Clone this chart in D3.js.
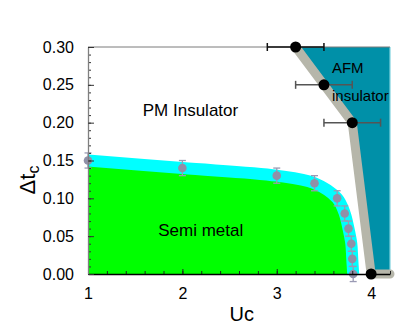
<!DOCTYPE html>
<html>
<head>
<meta charset="utf-8">
<script src="https://cdn.jsdelivr.net/npm/d3@7"></script>
<style>
  body { margin: 0; background: #fff; }
  text { font-family: Arial, "Liberation Sans", sans-serif; }
</style>
</head>
<body>
<svg id="chart" width="415" height="327"></svg>
<script>
// semi metal / PM insulator boundary (grey points)
const smU = [1, 2, 3, 3.4, 3.64, 3.72, 3.76, 3.79, 3.8, 3.81]
const smDt = [0.15, 0.14, 0.13, 0.12, 0.10, 0.08, 0.06, 0.04, 0.02, 0.00]
const smErr = [0.01, 0.01, 0.01, 0.01, 0.01, 0.01, 0.01, 0.01, 0.01, 0.01]

// AFM insulator boundary (black points, error in Uc)
const afmU = [3.2, 3.5, 3.8, 4.0]
const afmDt = [0.30, 0.25, 0.20, 0.00]
const afmErr = [0.3, 0.3, 0.3, 0]

const xTicks = [1, 2, 3, 4]
const yTicks = [0, 0.05, 0.10, 0.15, 0.20, 0.25, 0.30]

const svg = d3.select("#chart")
const margin = { top: 47, right: 25, bottom: 53, left: 88 }
const width = +svg.attr("width") - margin.left - margin.right
const height = +svg.attr("height") - margin.top - margin.bottom

const g = svg.append("g")
  .attr("transform", "translate(" + margin.left + "," + margin.top + ")")

const x = d3.scaleLinear().domain([1, 4.2]).range([0, width])
const y = d3.scaleLinear().domain([0, 0.30]).range([height, 0])

const smPts = smU.map((u, i) => [u, smDt[i], smErr[i]])
const afmPts = afmU.map((u, i) => [u, afmDt[i], afmErr[i]])

const curve = d3.curveCatmullRom.alpha(0.5)

// green semi metal region under the boundary
g.append("path")
  .datum(smPts)
  .attr("fill", "#00ff00")
  .attr("d", d3.area()
    .x(d => x(d[0]))
    .y0(y(0))
    .y1(d => y(d[1]))
    .curve(curve))

// cyan band along the boundary
g.append("path")
  .datum(smPts)
  .attr("fill", "none")
  .attr("stroke", "#00ffff")
  .attr("stroke-width", 12)
  .attr("d", d3.line().x(d => x(d[0])).y(d => y(d[1])).curve(curve))

// AFM region: boundary points closed on the right edge of the plot
const [xMin, xMax] = x.domain()
const [yMin, yMax] = y.domain()
const afmPoly = afmPts.map(d => [d[0], d[1]]).concat([[xMax, yMin], [xMax, yMax]])
const line = d3.line().x(d => x(d[0])).y(d => y(d[1]))

g.append("path")
  .datum(afmPoly)
  .attr("fill", "#0090a8")
  .attr("d", line)

g.append("line")
  .attr("x1", x(xMax)).attr("x2", x(xMax))
  .attr("y1", y(yMax)).attr("y2", y(yMin))
  .attr("stroke", "#7fd2de")
  .attr("stroke-width", 1.2)

// thick grey boundary line, runs on along the bottom
g.append("path")
  .datum(afmPts.map(d => [d[0], d[1]]).concat([[xMax, yMin]]))
  .attr("fill", "none")
  .attr("stroke", "#b6b6aa")
  .attr("stroke-width", 9)
  .attr("stroke-linecap", "round")
  .attr("stroke-linejoin", "round")
  .attr("d", line)

// grey error bars and points
const eb = g.append("g").attr("stroke", "#9a9ab4").attr("stroke-width", 1.3)
smPts.forEach(d => {
  eb.append("line")
    .attr("x1", x(d[0])).attr("x2", x(d[0]))
    .attr("y1", y(d[1] - d[2])).attr("y2", y(d[1] + d[2]))
  ;[d[1] - d[2], d[1] + d[2]].forEach(v => {
    eb.append("line")
      .attr("x1", x(d[0]) - 3.5).attr("x2", x(d[0]) + 3.5)
      .attr("y1", y(v)).attr("y2", y(v))
  })
})

g.selectAll(".smpt")
  .data(smPts)
  .join("circle")
  .attr("class", "smpt")
  .attr("cx", d => x(d[0]))
  .attr("cy", d => y(d[1]))
  .attr("r", 4.3)
  .attr("fill", "#9090a8")

// frame top line
g.append("line")
  .attr("x1", 0).attr("x2", width)
  .attr("y1", 0).attr("y2", 0)
  .attr("stroke", "#7a7a7a")

// axes with inward ticks
const xMinor = d3.range(10, 43, 2).map(v => v / 10)
g.append("g")
  .attr("transform", "translate(0," + height + ")")
  .call(d3.axisBottom(x).tickValues(xMinor).tickSize(-3).tickFormat(""))
  .call(a => a.select(".domain").remove())
  .call(a => a.selectAll("line").attr("stroke", "#222"))

g.append("g")
  .attr("transform", "translate(0," + height + ")")
  .call(d3.axisBottom(x).tickValues(xTicks).tickSize(-5).tickSizeOuter(0).tickPadding(14).tickFormat(d3.format("d")))
  .call(a => a.select(".domain").attr("stroke", "#000").attr("stroke-width", 1.3))
  .call(a => a.selectAll("line").attr("stroke", "#222"))
  .call(a => a.selectAll("text").attr("font-size", 16).attr("fill", "#000").attr("font-family", null))

const yMinor = d3.range(0, 31, 1).map(v => v / 100)
g.append("g")
  .call(d3.axisLeft(y).tickValues(yMinor).tickSize(-3).tickFormat(""))
  .call(a => a.select(".domain").remove())
  .call(a => a.selectAll("line").attr("stroke", "#333"))

g.append("g")
  .call(d3.axisLeft(y).tickValues(yTicks).tickSize(-6).tickSizeOuter(0).tickPadding(14).tickFormat(d3.format(".2f")))
  .call(a => a.select(".domain").attr("stroke", "#808080").attr("stroke-width", 1.3))
  .call(a => a.selectAll("line").attr("stroke", "#333"))
  .call(a => a.selectAll("text").attr("font-size", 16).attr("fill", "#000").attr("font-family", null))

// black error bars and points on AFM boundary
const eb2 = g.append("g").attr("stroke-width", 1.5)
afmPts.filter(d => d[2] > 0).forEach((d, i) => {
  const c = i === 0 ? "#111" : "#555"
  eb2.append("line")
    .attr("stroke", c)
    .attr("x1", x(d[0] - d[2])).attr("x2", x(d[0] + d[2]))
    .attr("y1", y(d[1])).attr("y2", y(d[1]))
  ;[d[0] - d[2], d[0] + d[2]].forEach(v => {
    eb2.append("line")
      .attr("stroke", c)
      .attr("x1", x(v)).attr("x2", x(v))
      .attr("y1", y(d[1]) - 4).attr("y2", y(d[1]) + 4)
  })
})

g.selectAll(".afmpt")
  .data(afmPts)
  .join("circle")
  .attr("class", "afmpt")
  .attr("cx", d => x(d[0]))
  .attr("cy", d => y(d[1]))
  .attr("r", 5.5)
  .attr("fill", "#000")

// region labels
g.append("text")
  .attr("x", x(2.086)).attr("y", y(0.209))
  .attr("text-anchor", "middle").attr("font-size", 17)
  .text("PM Insulator")

g.append("text")
  .attr("x", x(2.195)).attr("y", y(0.0506))
  .attr("text-anchor", "middle").attr("font-size", 17)
  .text("Semi metal")

g.append("text")
  .attr("x", x(3.585)).attr("y", y(0.265))
  .attr("font-size", 15)
  .text("AFM")

g.append("text")
  .attr("x", x(3.585)).attr("y", y(0.2286))
  .attr("font-size", 15)
  .text("insulator")

// axis titles
svg.append("text")
  .attr("x", 241.7).attr("y", 321)
  .attr("text-anchor", "middle").attr("font-size", 20)
  .text("Uc")

const yl = svg.append("text")
  .attr("transform", "translate(35,180) rotate(-90)")
  .attr("text-anchor", "middle").attr("font-size", 22)
yl.append("tspan").text("\u0394t")
yl.append("tspan").attr("font-size", 16).attr("dy", 4).text("c")
</script>
</body>
</html>
